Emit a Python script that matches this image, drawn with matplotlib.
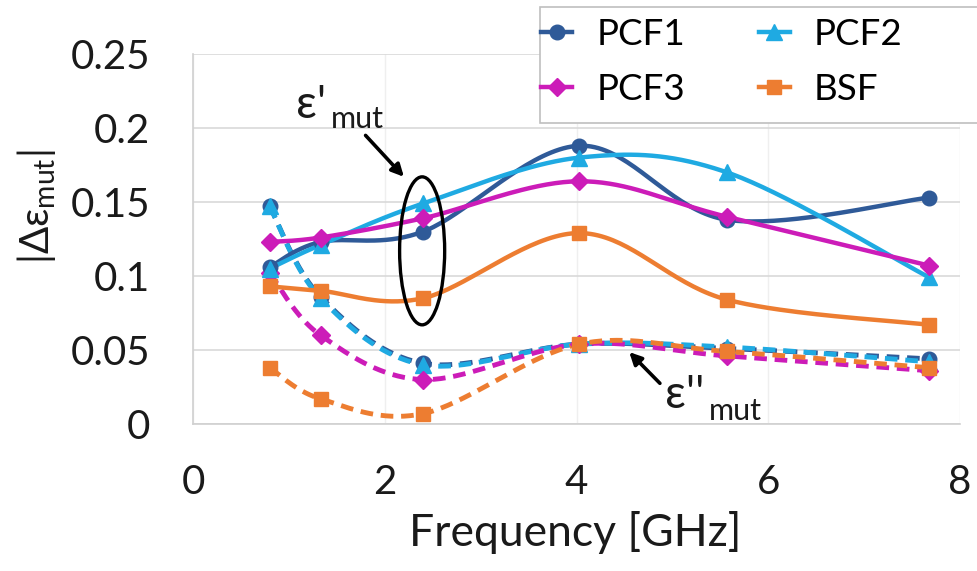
import numpy as np
import matplotlib
matplotlib.use("Agg")
import matplotlib.pyplot as plt
from matplotlib.patches import Ellipse, Rectangle
from matplotlib.lines import Line2D

plt.rcParams['font.family'] = ['Lato', 'Open Sans', 'DejaVu Sans']
plt.rcParams['mathtext.fontset'] = 'custom'
plt.rcParams['mathtext.rm'] = 'Lato'
plt.rcParams['mathtext.it'] = 'Lato:italic'
plt.rcParams['mathtext.fallback'] = 'stixsans'

# Measured frequencies [GHz]
freq = [0.8, 1.33, 2.4, 4.03, 5.57, 7.68]

# |Δε'_mut| (solid curves)
pcf1_real = [0.106, 0.123, 0.130, 0.188, 0.138, 0.153]
pcf2_real = [0.105, 0.121, 0.149, 0.180, 0.170, 0.099]
pcf3_real = [0.123, 0.126, 0.139, 0.164, 0.140, 0.107]
bsf_real = [0.093, 0.090, 0.085, 0.129, 0.084, 0.067]

# |Δε''_mut| (dashed curves)
pcf1_imag = [0.147, 0.086, 0.041, 0.054, 0.051, 0.044]
pcf2_imag = [0.147, 0.085, 0.040, 0.054, 0.052, 0.042]
pcf3_imag = [0.102, 0.060, 0.030, 0.054, 0.046, 0.036]
bsf_imag = [0.038, 0.017, 0.007, 0.054, 0.049, 0.038]

labels = ['PCF1', 'PCF2', 'PCF3', 'BSF']
colors = ['#2F5A98', '#1FAAE2', '#CC1CB8', '#ED7D31']
markers = ['o', '^', 'D', 's']
msizes = [10.5, 11.5, 9, 10.5]
real_series = [pcf1_real, pcf2_real, pcf3_real, bsf_real]
imag_series = [pcf1_imag, pcf2_imag, pcf3_imag, bsf_imag]

x_ticks = [0, 2, 4, 6, 8]
y_ticks = [0, 0.05, 0.1, 0.15, 0.2, 0.25]
y_ticklabels = ['0', '0.05', '0.1', '0.15', '0.2', '0.25']

W, H = 977, 571
fig = plt.figure(figsize=(W / 100, H / 100), dpi=100)


def fpx(x, y):
    """Pixel position (from top-left) to figure fraction."""
    return x / W, 1 - y / H


left, top = fpx(193, 54)
right, bottom = fpx(960, 424)
ax = fig.add_axes([left, bottom, right - left, top - bottom])
ax.set_xlim(0, 8)
ax.set_ylim(0, 0.25)
ax.set_xticks(x_ticks)
ax.set_yticks(y_ticks)
ax.set_yticklabels(y_ticklabels)
ax.tick_params(axis='both', length=0, labelsize=29, colors='#1a1a1a')
ax.tick_params(axis='x', pad=29)
ax.tick_params(axis='y', pad=31)
ax.grid(axis='y', color='#D9D9D9', lw=1.2)
ax.grid(axis='x', color='#EFEFEF', lw=1.0)
ax.set_axisbelow(True)
for side in ('top', 'right'):
    ax.spines[side].set_visible(False)
for side in ('left', 'bottom'):
    ax.spines[side].set_color('#D0D0D0')
    ax.spines[side].set_linewidth(1.2)


def smooth(ax, xs, ys, n=40):
    """Bezier smoothing through the points, computed in display space."""
    pts = ax.transData.transform(np.column_stack([xs, ys]))
    P = np.vstack([pts[0], pts, pts[-1]])
    t = np.linspace(0, 1, n)[:, None]
    out = []
    for i in range(1, len(P) - 2):
        p0, p1, p2, p3 = P[i - 1], P[i], P[i + 1], P[i + 2]
        c1 = p1 + (p2 - p0) / 6
        c2 = p2 - (p3 - p1) / 6
        seg = ((1 - t) ** 3) * p1 + 3 * ((1 - t) ** 2) * t * c1 \
            + 3 * (1 - t) * t ** 2 * c2 + t ** 3 * p2
        out.append(seg if i == 1 else seg[1:])
    curve = ax.transData.inverted().transform(np.vstack(out))
    return curve[:, 0], curve[:, 1]


handles = {}
for vals, c, m, ms, lab in zip(imag_series, colors, markers, msizes, labels):
    cx, cy = smooth(ax, freq, vals)
    ax.plot(cx, cy, color=c, lw=3.5, ls=(0, (2.6, 1.6)), dash_capstyle='butt', zorder=3)
    ax.plot(freq, vals, ls='none', marker=m, ms=ms, color=c, zorder=4)

for vals, c, m, ms, lab in zip(real_series, colors, markers, msizes, labels):
    cx, cy = smooth(ax, freq, vals)
    ax.plot(cx, cy, color=c, lw=3.2, zorder=5)
    ax.plot(freq, vals, ls='none', marker=m, ms=ms, color=c, zorder=6)
    handles[lab] = Line2D([], [], color=c, lw=3.2, marker=m, ms=ms, label=lab)

# Ellipse grouping the ε' curves at 2.4 GHz
ax.add_patch(Ellipse((2.39, 0.117), 0.47, 0.100, fill=False, ec='black', lw=2.4, zorder=7))

# Arrows to the two curve families
ax.annotate('', xy=(2.2, 0.167), xytext=(1.8, 0.195),
            arrowprops=dict(arrowstyle='-|>', lw=2.6, color='black', mutation_scale=18,
                            shrinkA=0, shrinkB=0), zorder=8)
ax.annotate('', xy=(4.55, 0.0486), xytext=(4.87, 0.0275),
            arrowprops=dict(arrowstyle='-|>', lw=2.6, color='black', mutation_scale=18,
                            shrinkA=0, shrinkB=0), zorder=8)

fig.text(*fpx(296, 118), "ε'", fontsize=33, ha='left', va='baseline', color='#1a1a1a')
fig.text(*fpx(331, 128), "mut", fontsize=22, ha='left', va='baseline', color='#1a1a1a')
fig.text(*fpx(665, 408), "ε''", fontsize=33, ha='left', va='baseline', color='#1a1a1a')
fig.text(*fpx(709, 420), "mut", fontsize=22, ha='left', va='baseline', color='#1a1a1a')

# Axis titles
fig.text(*fpx(575, 532), 'Frequency [GHz]', fontsize=32, ha='center', va='center',
         color='#1a1a1a')
fig.text(*fpx(36, 207), r'$\mathrm{|Δε_{mut}|}$', fontsize=29, ha='center', va='center',
         rotation=90, color='#1a1a1a')

# Legend box, running off the right edge
x0, y0 = fpx(540, 123)
x1, y1 = fpx(990, 7)
fig.patches.append(Rectangle((x0, y0), x1 - x0, y1 - y0, transform=fig.transFigure,
                             facecolor='white', edgecolor='#BFBFBF', lw=1.2, zorder=2))
legend_order = ['PCF1', 'PCF3', 'PCF2', 'BSF']
fig.legend(handles=[handles[k] for k in legend_order], loc='upper left',
           bbox_to_anchor=fpx(541, 18), ncol=2,
           frameon=False, fontsize=26.5, handlelength=0.85, handletextpad=0.65,
           columnspacing=2.0, labelspacing=0.6, borderpad=0, borderaxespad=0,
           numpoints=1).set_zorder(3)

fig.savefig('out.png', dpi=100)
